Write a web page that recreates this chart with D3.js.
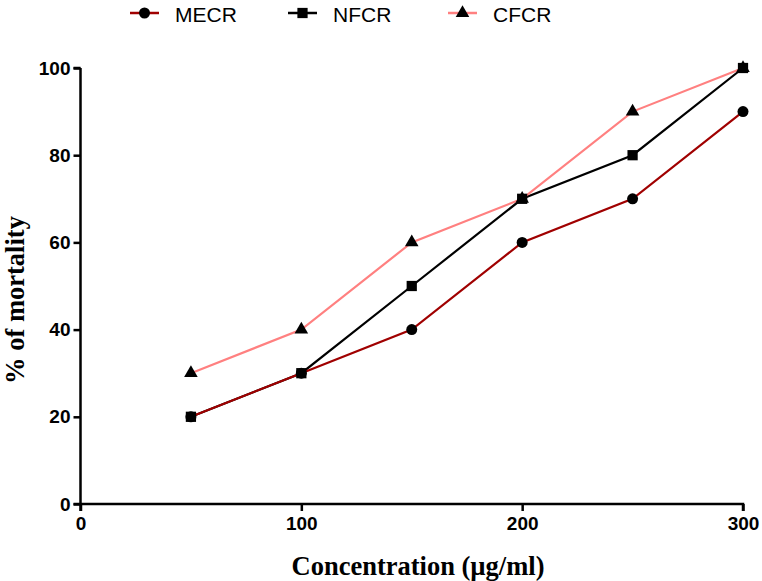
<!DOCTYPE html>
<html><head><meta charset="utf-8">
<script src="https://cdn.jsdelivr.net/npm/d3@7"></script>
<style>body{margin:0;background:#fff}svg{display:block}</style>
</head><body><svg id="c" width="762" height="581"></svg>
<script>
const concentrations = [50, 100, 150, 200, 250, 300];
const mecr = [20, 30, 40, 60, 70, 90];
const nfcr = [20, 30, 50, 70, 80, 100];
const cfcr = [30, 40, 60, 70, 90, 100];
const xTicks = [0, 100, 200, 300];
const yTicks = [0, 20, 40, 60, 80, 100];
const seriesNames = ["MECR", "NFCR", "CFCR"];

const svg = d3.select("#c");
const x = d3.scaleLinear().domain([0, 300]).range([80.5, 743]);
const y = d3.scaleLinear().domain([0, 100]).range([504, 68]);

const series = [
  {name: seriesNames[0], values: mecr, color: "#a00000", symbol: d3.symbolCircle, size: 95},
  {name: seriesNames[1], values: nfcr, color: "#000000", symbol: d3.symbolSquare, size: 105},
  {name: seriesNames[2], values: cfcr, color: "#ff8080", symbol: d3.symbolTriangle, size: 80}
];

// axes
const xAxis = svg.append("g").attr("transform", "translate(0,504)")
  .call(d3.axisBottom(x).tickValues(xTicks).tickSize(7).tickPadding(6));
const yAxis = svg.append("g").attr("transform", "translate(80.5,0)")
  .call(d3.axisLeft(y).tickValues(yTicks).tickSize(7).tickPadding(3));
[xAxis, yAxis].forEach(a => {
  a.select(".domain").attr("stroke", "#000").attr("stroke-width", 2.5);
  a.selectAll(".tick line").attr("stroke", "#000").attr("stroke-width", 2.5);
  a.selectAll("text").attr("font-family", "Liberation Sans, Arial, sans-serif")
    .attr("font-weight", "bold").attr("font-size", 19).attr("fill", "#000");
});
xAxis.select(".domain").attr("d", "M" + (80.5 - 7) + ",0H743V7");
yAxis.select(".domain").attr("d", "M0,68H-7M0,68V" + (504 + 7));

// lines
const line = d3.line().x((d, i) => x(concentrations[i])).y(d => y(d));
[series[1], series[0], series[2]].forEach(s => {
  svg.append("path").attr("d", line(s.values)).attr("fill", "none")
    .attr("stroke", s.color).attr("stroke-width", 2.2);
});
// markers
series.forEach(s => {
  svg.append("g").selectAll("path").data(s.values).join("path")
    .attr("transform", (d, i) => `translate(${x(concentrations[i])},${y(d)})`)
    .attr("d", d3.symbol().type(s.symbol).size(s.size)).attr("fill", "#000");
});

// legend
const legX = [130, 288, 448];
series.forEach((s, i) => {
  const g = svg.append("g").attr("transform", `translate(${legX[i]},13)`);
  g.append("line").attr("x1", 0).attr("x2", 29).attr("stroke", s.color).attr("stroke-width", 2.5);
  g.append("path").attr("transform", "translate(14.5,0)")
    .attr("d", d3.symbol().type(s.symbol).size(s.size)).attr("fill", "#000");
  g.append("text").attr("x", 45).attr("y", 9).text(s.name)
    .attr("font-family", "Liberation Sans, Arial, sans-serif").attr("font-size", 21).attr("fill", "#000");
});

// axis titles
svg.append("text").attr("x", 418).attr("y", 575).attr("text-anchor", "middle")
  .attr("font-family", "Liberation Serif, Times New Roman, serif").attr("font-weight", "bold")
  .attr("font-size", 26.5).text("Concentration (µg/ml)");
svg.append("text").attr("transform", "translate(24,300) rotate(-90)").attr("text-anchor", "middle")
  .attr("font-family", "Liberation Serif, Times New Roman, serif").attr("font-weight", "bold")
  .attr("font-size", 26.5).text("% of mortality");
</script></body></html>
